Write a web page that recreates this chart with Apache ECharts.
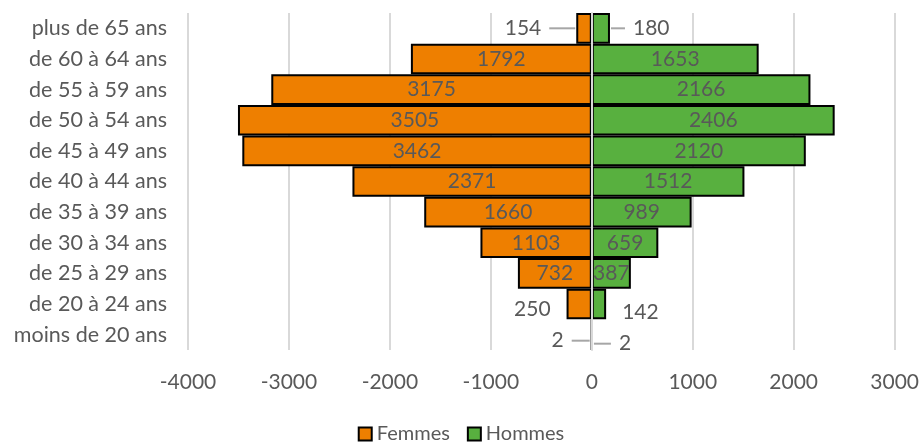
<!DOCTYPE html>
<html>
<head>
<meta charset="utf-8">
<script src="https://cdn.jsdelivr.net/npm/echarts@6/dist/echarts.min.js"></script>
<style>
  html, body { margin: 0; padding: 0; background: #fff; }
  #chart { width: 922px; height: 443px; }
</style>
</head>
<body>
<div id="chart"></div>
<script>
// Age groups, top row first
const ageGroups = [
  'plus de 65 ans', 'de 60 à 64 ans', 'de 55 à 59 ans', 'de 50 à 54 ans',
  'de 45 à 49 ans', 'de 40 à 44 ans', 'de 35 à 39 ans', 'de 30 à 34 ans',
  'de 25 à 29 ans', 'de 20 à 24 ans', 'moins de 20 ans'
];
const femmes = [154, 1792, 3175, 3505, 3462, 2371, 1660, 1103, 732, 250, 2];
const hommes = [180, 1653, 2166, 2406, 2120, 1512, 989, 659, 387, 142, 2];
const xTicks = [-4000, -3000, -2000, -1000, 0, 1000, 2000, 3000];

const FONT = 'Lato';
const TXT = '#595959';
const FS = 21;

// Bars too narrow for their value get the label outside,
// optionally with a short leader segment toward the bar.
const outsideFemmes = {
  0: { dist: 1, dy: 0, lead: 26, gap: 8 },
  9: { dist: 16, dy: 5, lead: 0, gap: 0 },
  10: { dist: 1, dy: 6, lead: 18, gap: 8 }
};
const outsideHommes = {
  0: { dist: 1, dy: 0, lead: 14, gap: 8 },
  9: { dist: 16, dy: 8, lead: 0, gap: 0 },
  10: { dist: 1, dy: 9, lead: 17, gap: 8 }
};

function outsideFormatter(side, o) {
  return p => {
    const v = '{v|' + Math.abs(p.value) + '}';
    if (!o.lead) return v;
    return side === 'left' ? v + '{g|}{l|}' : '{l|}{g|}' + v;
  };
}

function buildData(values, sign, outside, side) {
  return values.map((val, i) => {
    const item = { value: sign * val };
    const o = outside[i];
    if (o) {
      item.label = {
        position: side,
        distance: o.dist,
        offset: [0, o.dy],
        formatter: outsideFormatter(side, o),
        rich: {
          v: { color: TXT, fontFamily: FONT, fontSize: FS },
          g: { width: o.gap, height: 2 },
          l: { width: o.lead, height: 2, backgroundColor: '#a6a6a6', verticalAlign: 'middle' }
        }
      };
    }
    return item;
  });
}

const chart = echarts.init(document.getElementById('chart'));
const barLabel = {
  show: true,
  position: 'inside',
  color: TXT,
  fontFamily: FONT,
  fontSize: FS,
  formatter: p => String(Math.abs(p.value))
};

chart.setOption({
  animation: false,
  grid: { left: 188, right: 25, top: 13, bottom: 93, containLabel: false },
  legend: {
    top: 419,
    left: 'center',
    itemWidth: 13,
    itemHeight: 13,
    itemGap: 17,
    icon: 'rect',
    textStyle: { color: TXT, fontFamily: FONT, fontSize: 20 },
    data: ['Femmes', 'Hommes']
  },
  xAxis: {
    type: 'value',
    min: xTicks[0],
    max: xTicks[xTicks.length - 1],
    interval: 1000,
    axisLine: { show: false },
    axisTick: { show: false },
    axisLabel: { color: TXT, fontFamily: FONT, fontSize: FS, margin: 22, formatter: v => String(v) },
    splitLine: { show: true, lineStyle: { color: '#d9d9d9', width: 2 } }
  },
  yAxis: {
    type: 'category',
    inverse: true,
    data: ageGroups,
    z: 5,
    axisLine: { show: true, onZero: true, lineStyle: { color: '#d9d9d9', width: 2 } },
    axisTick: { show: false },
    axisLabel: { color: TXT, fontFamily: FONT, fontSize: 21.5, margin: 21 }
  },
  series: [
    {
      name: 'Femmes',
      type: 'bar',
      stack: 'pyramide',
      barCategoryGap: '0%',
      itemStyle: { color: '#ee7f00', borderColor: '#000', borderWidth: 2 },
      label: barLabel,
      data: buildData(femmes, -1, outsideFemmes, 'left')
    },
    {
      name: 'Hommes',
      type: 'bar',
      stack: 'pyramide',
      barCategoryGap: '0%',
      itemStyle: { color: '#58b03f', borderColor: '#000', borderWidth: 2 },
      label: barLabel,
      data: buildData(hommes, 1, outsideHommes, 'right')
    }
  ]
});
</script>
</body>
</html>
